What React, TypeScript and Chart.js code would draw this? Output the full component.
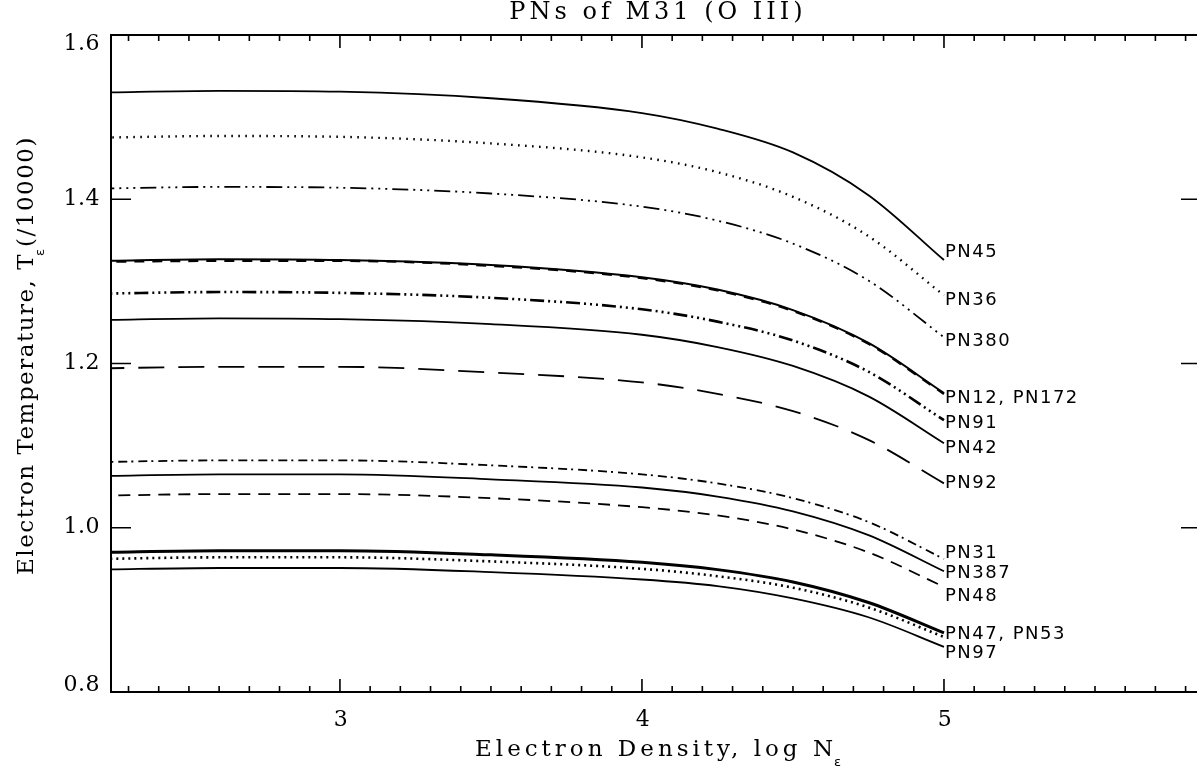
import { useEffect, useRef } from "react";
import { Chart, registerables } from "chart.js";

Chart.register(...registerables);

// ---- data ----
const logNe = [2.2, 2.6, 3.0, 3.5, 4.0, 4.25, 4.5, 4.75, 5.0];

const pn45 = [1.53, 1.532, 1.531, 1.523, 1.505, 1.486, 1.457, 1.405, 1.326];
const pn36 = [1.475, 1.477, 1.476, 1.468, 1.451, 1.433, 1.403, 1.355, 1.283];
const pn380 = [1.413, 1.415, 1.414, 1.407, 1.391, 1.374, 1.346, 1.301, 1.232];
const pn12 = [1.325, 1.327, 1.326, 1.32, 1.305, 1.29, 1.265, 1.225, 1.164];
const pn172 = [1.324, 1.325, 1.325, 1.319, 1.304, 1.289, 1.264, 1.224, 1.163];
const pn91 = [1.285, 1.287, 1.286, 1.28, 1.266, 1.251, 1.228, 1.19, 1.131];
const pn42 = [1.253, 1.255, 1.254, 1.248, 1.235, 1.22, 1.197, 1.16, 1.103];
const pn92 = [1.194, 1.196, 1.196, 1.189, 1.177, 1.163, 1.142, 1.107, 1.054];
const pn31 = [1.08, 1.082, 1.082, 1.076, 1.065, 1.054, 1.036, 1.007, 0.962];
const pn387 = [1.063, 1.065, 1.065, 1.059, 1.049, 1.038, 1.02, 0.991, 0.947];
const pn48 = [1.039, 1.041, 1.041, 1.036, 1.025, 1.015, 0.998, 0.97, 0.928];
const pn47 = [0.97, 0.972, 0.972, 0.967, 0.958, 0.949, 0.934, 0.909, 0.872];
const pn53 = [0.962, 0.964, 0.964, 0.959, 0.95, 0.941, 0.927, 0.903, 0.867];
const pn97 = [0.949, 0.951, 0.951, 0.946, 0.937, 0.929, 0.914, 0.891, 0.855];

const yTicks = [0.8, 1.0, 1.2, 1.4, 1.6];
const xTicks = [3, 4, 5];
const xMin = 2.242;
const xMax = 5.851;
const yMin = 0.8;
const yMax = 1.6;

const labelTexts = [
  "PN45",
  "PN36",
  "PN380",
  "PN12, PN172",
  "PN91",
  "PN42",
  "PN92",
  "PN31",
  "PN387",
  "PN48",
  "PN47, PN53",
  "PN97",
];
const labelValues = [1.335, 1.277, 1.227, 1.158, 1.127, 1.097, 1.054, 0.969, 0.945, 0.917, 0.87, 0.847];
const labelAtX = 5;

const titleText = "PNs of M31 (O III)";
const xTitleText = "Electron Density, log N";
const yTitleText = "Electron Temperature, T";
const yTitleTail = "(/10000)";
const subText = "\u03b5";

// ---- styles ----
const series = [
  { name: "PN45", data: pn45, width: 1.8, dash: [] as number[] },
  { name: "PN36", data: pn36, width: 2.4, dash: [1.6, 5.4] },
  { name: "PN380", data: pn380, width: 1.8, dash: [16, 5, 2, 5, 2, 5, 2, 5] },
  { name: "PN12", data: pn12, width: 2, dash: [] },
  { name: "PN172", data: pn172, width: 2.4, dash: [10, 8] },
  { name: "PN91", data: pn91, width: 2.6, dash: [14, 4, 2, 4, 2, 4, 2, 4] },
  { name: "PN42", data: pn42, width: 1.8, dash: [] },
  { name: "PN92", data: pn92, width: 1.8, dash: [26, 14] },
  { name: "PN31", data: pn31, width: 1.8, dash: [9, 4, 2, 5] },
  { name: "PN387", data: pn387, width: 1.8, dash: [] },
  { name: "PN48", data: pn48, width: 1.8, dash: [12, 8] },
  { name: "PN47", data: pn47, width: 3, dash: [] },
  { name: "PN53", data: pn53, width: 2.6, dash: [2, 4] },
  { name: "PN97", data: pn97, width: 1.8, dash: [] },
];

const SERIF = '"DejaVu Serif", serif';
const SANS = '"DejaVu Sans", sans-serif';

function setSpacing(ctx: CanvasRenderingContext2D, px: number) {
  (ctx as any).letterSpacing = px + "px";
}

const framePlugin = {
  id: "frameAndText",
  afterDraw(chart: any) {
    const { ctx, chartArea: a, scales } = chart;
    const xs = scales.x;
    const ys = scales.y;
    ctx.save();
    ctx.strokeStyle = "#000";
    ctx.fillStyle = "#000";

    // frame
    ctx.lineWidth = 2;
    ctx.strokeRect(a.left, a.top, a.right - a.left, a.bottom - a.top);

    // ticks (inward)
    ctx.lineWidth = 1.6;
    ctx.beginPath();
    const start = Math.ceil(xMin * 10);
    const end = Math.floor(xMax * 10);
    for (let i = start; i <= end; i++) {
      const px = xs.getPixelForValue(i / 10);
      const len = i % 10 === 0 ? 13 : 6;
      ctx.moveTo(px, a.bottom);
      ctx.lineTo(px, a.bottom - len);
      ctx.moveTo(px, a.top);
      ctx.lineTo(px, a.top + len);
    }
    for (const v of yTicks) {
      const py = ys.getPixelForValue(v);
      ctx.moveTo(a.left, py);
      ctx.lineTo(a.left + 20, py);
      ctx.moveTo(a.right, py);
      ctx.lineTo(a.right - 20, py);
    }
    ctx.stroke();

    // tick labels
    ctx.font = "22px " + SERIF;
    setSpacing(ctx, 0.5);
    ctx.textBaseline = "middle";
    ctx.textAlign = "right";
    for (const v of yTicks) {
      let py = ys.getPixelForValue(v);
      py = Math.min(Math.max(py, a.top + 9), a.bottom - 7);
      ctx.fillText(v.toFixed(1), a.left - 11, py);
    }
    ctx.textAlign = "center";
    for (const v of xTicks) {
      ctx.fillText(String(v), xs.getPixelForValue(v) + 1, a.bottom + 28);
    }

    // curve labels
    ctx.font = "18px " + SANS;
    setSpacing(ctx, 1.5);
    ctx.textAlign = "left";
    const lx = xs.getPixelForValue(labelAtX) + 1;
    labelTexts.forEach((t, i) => {
      ctx.fillText(t, lx, ys.getPixelForValue(labelValues[i]));
    });

    const cx = (a.left + a.right) / 2;

    // title
    ctx.font = "24px " + SERIF;
    setSpacing(ctx, 4);
    ctx.textAlign = "center";
    ctx.fillText(titleText, cx + 2, 13);

    // x title with subscript
    ctx.font = "23px " + SERIF;
    setSpacing(ctx, 4);
    ctx.textAlign = "left";
    const w1 = ctx.measureText(xTitleText).width;
    const x0 = cx - w1 / 2;
    ctx.fillText(xTitleText, x0, a.bottom + 58);
    ctx.font = "13px " + SANS;
    setSpacing(ctx, 0);
    ctx.fillText(subText, x0 + w1 - 3, a.bottom + 71);

    // y title rotated
    ctx.save();
    ctx.translate(27, (a.top + a.bottom) / 2 - 8);
    ctx.rotate(-Math.PI / 2);
    ctx.font = "23px " + SERIF;
    setSpacing(ctx, 1.5);
    const wa = ctx.measureText(yTitleText).width;
    const wb = ctx.measureText(yTitleTail).width;
    const total = wa + wb + 6;
    const sx = -total / 2;
    ctx.textAlign = "left";
    ctx.fillText(yTitleText, sx, 0);
    ctx.font = "13px " + SANS;
    setSpacing(ctx, 0);
    ctx.fillText(subText, sx + wa - 3, 14);
    ctx.font = "23px " + SERIF;
    setSpacing(ctx, 1.5);
    ctx.fillText(yTitleTail, sx + wa + 6, 0);
    ctx.restore();

    ctx.restore();
  },
};

export default function App() {
  const ref = useRef<HTMLCanvasElement | null>(null);

  useEffect(() => {
    if (!ref.current) return;
    const chart = new Chart(ref.current, {
      type: "line",
      data: {
        datasets: series.map((s) => ({
          label: s.name,
          data: logNe.map((x, i) => ({ x, y: s.data[i] })),
          borderColor: "#000",
          borderWidth: s.width,
          borderDash: s.dash,
          pointRadius: 0,
          fill: false,
          cubicInterpolationMode: "monotone" as const,
        })),
      },
      options: {
        animation: false,
        responsive: false,
        devicePixelRatio: 1,
        layout: { padding: { top: 35, left: 0, right: 0, bottom: 0 } },
        plugins: {
          legend: { display: false },
          tooltip: { enabled: false },
          title: { display: false },
        },
        scales: {
          x: {
            type: "linear",
            min: xMin,
            max: xMax,
            grid: { display: false, drawTicks: false },
            border: { display: false },
            ticks: { display: false },
            afterFit: (s: any) => {
              s.height = 78;
            },
          },
          y: {
            type: "linear",
            min: yMin,
            max: yMax,
            grid: { display: false, drawTicks: false },
            border: { display: false },
            ticks: { display: false },
            afterFit: (s: any) => {
              s.width = 111;
            },
          },
        },
      },
      plugins: [framePlugin],
    });
    return () => chart.destroy();
  }, []);

  return (
    <div
      style={{
        position: "fixed",
        left: 0,
        top: 0,
        width: 1197,
        height: 770,
        overflow: "hidden",
        background: "#fff",
      }}
    >
      <canvas ref={ref} width={1201} height={770} style={{ display: "block" }} />
    </div>
  );
}
